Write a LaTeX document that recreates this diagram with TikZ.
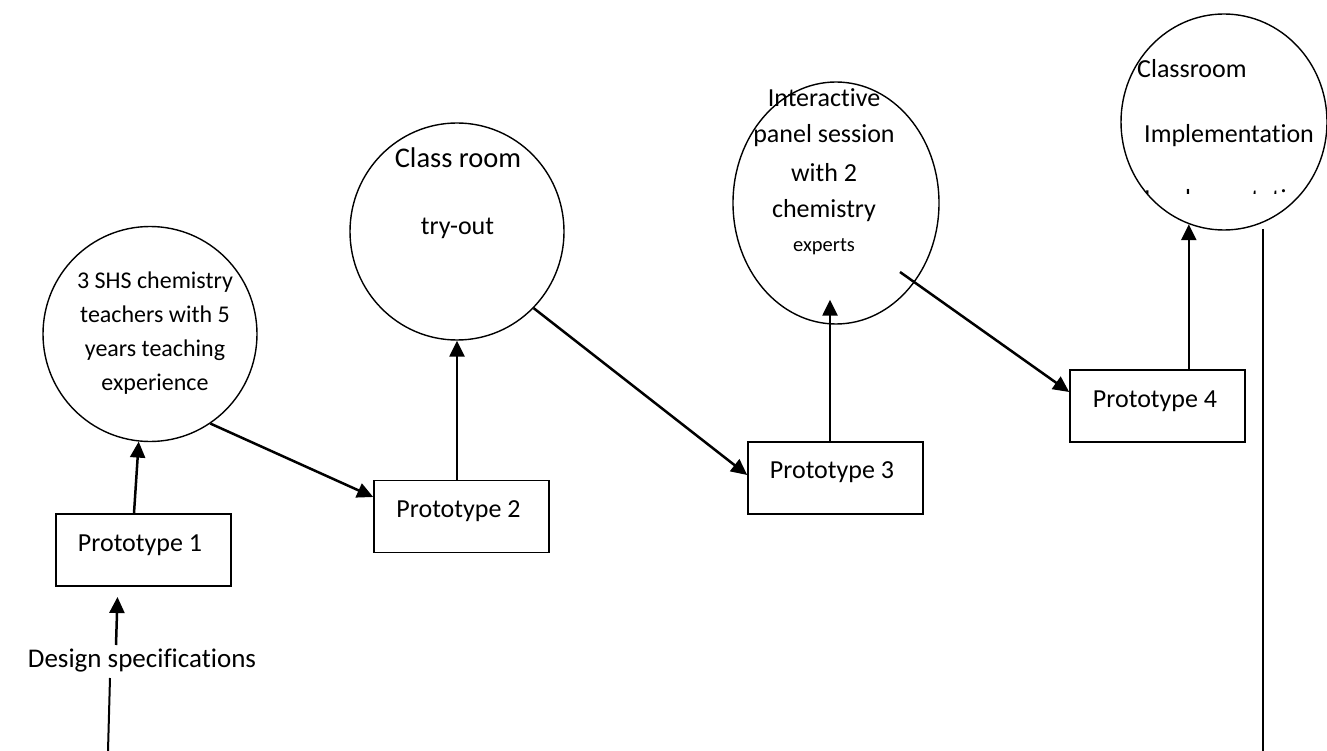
\documentclass[tikz,border=0pt]{standalone}
\usepackage{fontspec}
\setmainfont{Carlito}[Ligatures={NoCommon,NoContextual},RawFeature=-dlig]
\usetikzlibrary{arrows.meta,shapes.geometric}

\begin{document}
\begin{tikzpicture}[x=1pt,y=-1pt,
  bubble/.style={draw, ellipse, line width=1.4pt, inner sep=0pt},
  protobox/.style={draw, rectangle, line width=1.6pt, minimum width=175pt,
                   minimum height=72pt, inner sep=0pt},
  txt/.style={anchor=base, inner sep=0pt, font=\fontsize{26}{30}\selectfont},
  smalltxt/.style={txt, font=\fontsize{24}{28}\selectfont},
  flow/.style={line width=2.5pt, -{Triangle[length=16pt,width=15pt]}},
  feed/.style={line width=2pt},
  thinline/.style={line width=1.4pt},
]
\useasboundingbox (0,0) rectangle (1327,751);

% ---- review stages (ellipses) ----
\node[bubble, minimum width=214pt, minimum height=215pt] (E1) at (150,334) {};
\node[bubble, minimum width=214pt, minimum height=217pt] (E2) at (457,231.5) {};
\node[bubble, minimum width=206pt, minimum height=242pt] (E3) at (836,203) {};
\node[bubble, minimum width=206pt, minimum height=216pt] (E4) at (1224,122) {};

% ---- prototypes (boxes) ----
\node[protobox] (P1) at (143.5,550) {};
\node[protobox] (P2) at (461.5,516.5) {};
\node[protobox] (P3) at (835.5,478) {};
\node[protobox] (P4) at (1157.5,406) {};

% box captions, set in the upper part of each box
\node[txt] (P1t) at (140,551) {Prototype 1};
\node[txt] (P2t) at (458.5,517) {Prototype 2};
\node[txt] (P3t) at (832,478) {Prototype 3};
\node[txt] (P4t) at (1155,407) {Prototype 4};

% ---- ellipse texts ----
\node[smalltxt] (E1a) at (155,288) {3 SHS chemistry};
\node[smalltxt] (E1b) at (155,322) {teachers with 5};
\node[smalltxt] (E1c) at (155,356) {years teaching};
\node[smalltxt] (E1d) at (155,390) {experience};

\node[txt, font=\fontsize{28.5}{32}\selectfont] (E2a) at (458,168) {Class room};
\node[txt] (E2b) at (457.5,235) {try-out};

\node[txt] (E3a) at (824,107) {Interactive};
\node[txt] (E3b) at (824,143) {panel session};
\node[txt] (E3c) at (824,182) {with 2};
\node[txt] (E3d) at (824,218) {chemistry};
\node[txt, font=\fontsize{20.5}{24}\selectfont] (E3e) at (824,252) {experts};

\node[txt, anchor=base west] (E4a) at (1137,78) {Classroom};
\node[txt, anchor=base west] (E4b) at (1144,143) {Implementation};
\begin{scope}
  \clip (1100,0) rectangle (1327,193.5);
  \node[txt, anchor=base west] (E4c) at (1144,208) {Implementation};
\end{scope}

% ---- input label ----
\node[txt, font=\fontsize{27}{30}\selectfont] (DS) at (142,667) {Design specifications};
\coordinate (dsbottom) at (108,751);
\coordinate (dsunder) at (110,678);
\coordinate (dsover) at (116,645);
\coordinate (p1below) at (117.5,597);

% ---- connectors ----
\draw[feed] (dsbottom) -- (dsunder);
\draw[flow] (dsover) -- (p1below);
\draw[flow] ([xshift=-9.5pt]P1.north) -- (E1.264);
\draw[flow] (E1.304) -- ([yshift=19.5pt]P2.west);
\draw[flow] (P2.north -| E2.south) -- (E2.south);
\draw[flow] (E2.315) -- ([yshift=3pt]P3.west);
\draw[flow] ([xshift=-5.5pt]P3.north) -- ([xshift=-6pt,yshift=25pt]E3.south);
\draw[flow] ([xshift=64pt,yshift=-69pt]E3.center) -- ([yshift=14pt]P4.west);
\draw[flow] (E4.251 |- P4.north) -- (E4.251);
\coordinate (outtop) at ([yshift=-6pt]E4.291);
\coordinate (outbottom) at (1263,751);
\draw[thinline] (outbottom |- outtop) -- (outbottom);
\end{tikzpicture}
\end{document}
